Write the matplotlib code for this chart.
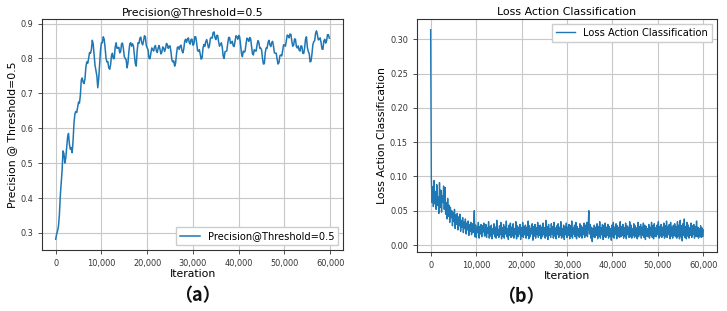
import numpy as np
import matplotlib
matplotlib.use("Agg")
import matplotlib.pyplot as plt
from matplotlib.ticker import FuncFormatter

# ---------------------------------------------------------------------------
# Data
# ---------------------------------------------------------------------------
prec_step = 200  # logging interval for the precision curve
precision = [
    0.282, 0.296, 0.305, 0.318, 0.350, 0.404, 0.440, 0.479, 0.535, 0.527,
    0.500, 0.514, 0.545, 0.574, 0.585, 0.554, 0.540, 0.544, 0.530, 0.564,
    0.615, 0.641, 0.648, 0.645, 0.660, 0.675, 0.672, 0.696, 0.738, 0.744,
    0.732, 0.728, 0.742, 0.775, 0.790, 0.786, 0.800, 0.817, 0.815, 0.825,
    0.852, 0.841, 0.812, 0.780, 0.765, 0.750, 0.716, 0.742, 0.785, 0.824,
    0.845, 0.845, 0.862, 0.855, 0.830, 0.801, 0.790, 0.791, 0.773, 0.769,
    0.782, 0.808, 0.815, 0.799, 0.800, 0.832, 0.845, 0.829, 0.830, 0.832,
    0.816, 0.820, 0.842, 0.844, 0.828, 0.805, 0.800, 0.796, 0.773, 0.788,
    0.820, 0.842, 0.845, 0.835, 0.842, 0.835, 0.810, 0.785, 0.778, 0.821,
    0.845, 0.843, 0.858, 0.861, 0.845, 0.839, 0.850, 0.865, 0.862, 0.837,
    0.830, 0.824, 0.800, 0.799, 0.815, 0.830, 0.826, 0.821, 0.833, 0.837,
    0.822, 0.817, 0.830, 0.837, 0.826, 0.813, 0.818, 0.833, 0.830, 0.820,
    0.828, 0.843, 0.840, 0.829, 0.835, 0.836, 0.818, 0.795, 0.790, 0.793,
    0.778, 0.786, 0.812, 0.832, 0.833, 0.826, 0.836, 0.838, 0.822, 0.816,
    0.828, 0.850, 0.855, 0.846, 0.855, 0.859, 0.845, 0.841, 0.855, 0.855,
    0.838, 0.841, 0.862, 0.862, 0.845, 0.823, 0.820, 0.825, 0.812, 0.798,
    0.802, 0.830, 0.840, 0.835, 0.848, 0.854, 0.842, 0.830, 0.836, 0.857,
    0.860, 0.858, 0.874, 0.876, 0.860, 0.854, 0.866, 0.866, 0.848, 0.835,
    0.840, 0.845, 0.832, 0.807, 0.800, 0.819, 0.820, 0.822, 0.843, 0.860,
    0.860, 0.843, 0.845, 0.849, 0.836, 0.834, 0.850, 0.865, 0.862, 0.855,
    0.866, 0.862, 0.840, 0.814, 0.805, 0.821, 0.818, 0.821, 0.842, 0.858,
    0.855, 0.849, 0.860, 0.857, 0.835, 0.814, 0.810, 0.825, 0.822, 0.821,
    0.838, 0.851, 0.846, 0.829, 0.830, 0.824, 0.800, 0.784, 0.785, 0.817,
    0.830, 0.829, 0.845, 0.852, 0.840, 0.834, 0.845, 0.849, 0.835, 0.816,
    0.815, 0.815, 0.797, 0.784, 0.788, 0.808, 0.810, 0.807, 0.822, 0.839,
    0.838, 0.835, 0.850, 0.867, 0.865, 0.859, 0.870, 0.869, 0.850, 0.835,
    0.838, 0.856, 0.855, 0.834, 0.830, 0.836, 0.824, 0.821, 0.836, 0.835,
    0.815, 0.814, 0.830, 0.855, 0.862, 0.832, 0.820, 0.814, 0.790, 0.792,
    0.812, 0.839, 0.848, 0.851, 0.872, 0.879, 0.868, 0.853, 0.855, 0.859,
    0.845, 0.827, 0.826, 0.850, 0.855, 0.844, 0.850, 0.868, 0.868, 0.858,
]

loss_step = 150  # logging interval for the loss curve
loss = [
    0.314, 0.098, 0.062, 0.085, 0.056, 0.094, 0.060, 0.078, 0.052, 0.088,
    0.058, 0.070, 0.046, 0.091, 0.055, 0.080, 0.048, 0.072, 0.062, 0.086,
    0.052, 0.084, 0.045, 0.062, 0.038, 0.068, 0.042, 0.058, 0.033, 0.055,
    0.040, 0.050, 0.028, 0.047, 0.034, 0.052, 0.024, 0.044, 0.030, 0.046,
    0.022, 0.041, 0.028, 0.045, 0.020, 0.036, 0.026, 0.040, 0.018, 0.034,
    0.024, 0.038, 0.016, 0.032, 0.022, 0.035, 0.014, 0.030, 0.020, 0.033,
    0.015, 0.031, 0.018, 0.028, 0.050, 0.012, 0.029, 0.011, 0.026, 0.018,
    0.033, 0.010, 0.027, 0.016, 0.030, 0.012, 0.028, 0.019, 0.032, 0.013,
    0.014, 0.030, 0.011, 0.025, 0.017, 0.034, 0.010, 0.027, 0.013, 0.029,
    0.009, 0.024, 0.016, 0.031, 0.012, 0.026, 0.010, 0.036, 0.014, 0.023,
    0.011, 0.028, 0.015, 0.033, 0.009, 0.025, 0.013, 0.030, 0.010, 0.027,
    0.016, 0.035, 0.012, 0.024, 0.008, 0.029, 0.014, 0.032, 0.011, 0.026,
    0.013, 0.031, 0.010, 0.024, 0.015, 0.034, 0.009, 0.028, 0.012, 0.026,
    0.016, 0.030, 0.008, 0.025, 0.013, 0.033, 0.011, 0.027, 0.015, 0.029,
    0.010, 0.026, 0.014, 0.035, 0.009, 0.028, 0.012, 0.024, 0.016, 0.031,
    0.007, 0.027, 0.013, 0.030, 0.010, 0.025, 0.015, 0.033, 0.011, 0.028,
    0.014, 0.029, 0.009, 0.026, 0.012, 0.032, 0.015, 0.025, 0.010, 0.036,
    0.013, 0.027, 0.008, 0.030, 0.014, 0.024, 0.011, 0.031, 0.016, 0.027,
    0.010, 0.033, 0.013, 0.025, 0.009, 0.028, 0.015, 0.031, 0.011, 0.026,
    0.014, 0.034, 0.010, 0.024, 0.012, 0.029, 0.008, 0.027, 0.015, 0.032,
    0.011, 0.026, 0.014, 0.030, 0.009, 0.028, 0.013, 0.035, 0.010, 0.025,
    0.016, 0.029, 0.012, 0.033, 0.009, 0.027, 0.014, 0.024, 0.011, 0.031,
    0.013, 0.028, 0.010, 0.026, 0.015, 0.032, 0.011, 0.029, 0.014, 0.033,
    0.012, 0.027, 0.050, 0.016, 0.030, 0.010, 0.026, 0.005, 0.024, 0.012,
    0.029, 0.011, 0.026, 0.014, 0.031, 0.009, 0.027, 0.013, 0.034, 0.010,
    0.025, 0.015, 0.030, 0.008, 0.028, 0.012, 0.032, 0.011, 0.026, 0.014,
    0.030, 0.010, 0.027, 0.013, 0.024, 0.007, 0.029, 0.012, 0.033, 0.010,
    0.026, 0.015, 0.031, 0.009, 0.028, 0.013, 0.025, 0.011, 0.034, 0.012,
    0.027, 0.014, 0.030, 0.010, 0.025, 0.013, 0.032, 0.009, 0.028, 0.015,
    0.026, 0.011, 0.034, 0.012, 0.029, 0.010, 0.024, 0.014, 0.031, 0.011,
    0.028, 0.013, 0.025, 0.009, 0.033, 0.012, 0.027, 0.015, 0.030, 0.010,
    0.026, 0.014, 0.032, 0.011, 0.029, 0.008, 0.027, 0.013, 0.024, 0.012,
    0.030, 0.010, 0.026, 0.014, 0.033, 0.011, 0.028, 0.009, 0.031, 0.013,
    0.025, 0.012, 0.029, 0.015, 0.034, 0.010, 0.027, 0.013, 0.030, 0.011,
    0.026, 0.014, 0.032, 0.010, 0.028, 0.012, 0.035, 0.011, 0.027, 0.015,
    0.030, 0.009, 0.033, 0.013, 0.026, 0.010, 0.029, 0.014, 0.031, 0.012,
    0.027, 0.010, 0.034, 0.013, 0.029, 0.009, 0.036, 0.012, 0.028, 0.006,
    0.031, 0.014, 0.038, 0.011, 0.027, 0.009, 0.033, 0.013, 0.029, 0.010,
    0.025, 0.014, 0.032, 0.011, 0.028, 0.015, 0.030, 0.010, 0.027, 0.013,
    0.035, 0.012, 0.026, 0.010, 0.024, 0.013, 0.028, 0.011, 0.025, 0.012,
    0.022,
]

prec_iters = np.arange(len(precision)) * prec_step
loss_iters = np.arange(len(loss)) * loss_step

# ---------------------------------------------------------------------------
# Style
# ---------------------------------------------------------------------------
LINE = "#1f77b4"
TICK_FS = 5.9
LABEL_FS = 7.8
TITLE_FS = 7.9
LEGEND_FS = 7.1

comma_fmt = FuncFormatter(lambda v, _: f"{v:,.0f}")


def style_axes(ax):
    ax.grid(True, color="#c8c8c8", linewidth=0.8)
    ax.set_axisbelow(True)
    ax.tick_params(labelsize=TICK_FS, length=3, width=0.6, colors="#333333")
    for s in ax.spines.values():
        s.set_color("#333333")
        s.set_linewidth(0.8)
    ax.xaxis.set_major_formatter(comma_fmt)
    ax.set_xticks([0, 10000, 20000, 30000, 40000, 50000, 60000])


fig = plt.figure(figsize=(7.27, 3.11), dpi=100)
fig.patch.set_facecolor("white")

# (a) precision
ax1 = fig.add_axes([42 / 727, 61 / 311, 301 / 727, 231 / 311])
ax1.plot(prec_iters, precision, color=LINE, linewidth=1.1,
         label="Precision@Threshold=0.5")
style_axes(ax1)
ax1.set_xlim(-2990, 62790)
ax1.set_ylim(0.251, 0.913)
ax1.set_yticks([0.3, 0.4, 0.5, 0.6, 0.7, 0.8, 0.9])
ax1.set_title("Precision@Threshold=0.5", fontsize=TITLE_FS, pad=3)
ax1.set_xlabel("Iteration", fontsize=LABEL_FS, labelpad=1)
ax1.set_ylabel("Precision @ Threshold=0.5", fontsize=LABEL_FS, labelpad=2)
ax1.legend(loc="lower right", fontsize=LEGEND_FS, framealpha=1,
           edgecolor="#cccccc", fancybox=False, borderpad=0.4,
           handlelength=2.0)

# (b) loss
ax2 = fig.add_axes([417 / 727, 59 / 311, 300 / 727, 233 / 311])
ax2.plot(loss_iters, loss, color=LINE, linewidth=1.0,
         label="Loss Action Classification")
style_axes(ax2)
ax2.set_xlim(-3000, 63000)
ax2.set_ylim(-0.0102, 0.3296)
ax2.set_yticks([0.0, 0.05, 0.10, 0.15, 0.20, 0.25, 0.30])
ax2.yaxis.set_major_formatter(FuncFormatter(lambda v, _: f"{v:.2f}"))
ax2.set_title("Loss Action Classification", fontsize=TITLE_FS, pad=3)
ax2.set_xlabel("Iteration", fontsize=LABEL_FS, labelpad=1)
ax2.set_ylabel("Loss Action Classification", fontsize=LABEL_FS, labelpad=2)
ax2.legend(loc="upper right", fontsize=LEGEND_FS, framealpha=1,
           edgecolor="#cccccc", fancybox=False, borderpad=0.4,
           handlelength=2.0)

# panel captions
cjk = ["Noto Sans CJK SC", "DejaVu Sans"]
fig.text(197 / 727, 1 - 296 / 311, "（a）", family=cjk, weight="bold",
         fontsize=13, ha="center", va="center", color="#111111")
fig.text(521 / 727, 1 - 297 / 311, "（b）", family=cjk, weight="bold",
         fontsize=13, ha="center", va="center", color="#111111")

fig.savefig("out.png", dpi=100, facecolor="white")
plt.close(fig)
